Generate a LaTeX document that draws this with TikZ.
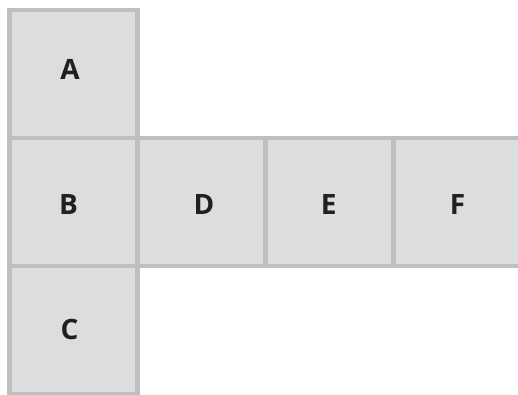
\documentclass[tikz,border=0pt]{standalone}
\usepackage{fontspec}
\setmainfont{Open Sans}
\definecolor{cellfill}{RGB}{220,221,223}
\definecolor{cellline}{RGB}{190,191,193}
\definecolor{celltext}{RGB}{35,31,32}
\begin{document}
\begin{tikzpicture}[x=1pt,y=-1pt,
  cell/.style={draw=cellline,fill=cellfill,line width=4.5pt,minimum width=128pt,minimum height=128pt,inner sep=0pt},
  lab/.style={font=\fontsize{28}{28}\selectfont\bfseries,text=celltext,inner sep=0pt,anchor=base}]
\useasboundingbox (0,0) rectangle (518,395);
\clip (0,0) rectangle (518,395);
\node[cell] (A) at (73.5,74) {};
\node[cell] (B) at (73.5,202) {};
\node[cell] (C) at (73.5,330) {};
\node[cell] (D) at (201.5,202) {};
\node[cell] (E) at (329.5,202) {};
\node[cell] (F) at (457.5,202) {};
\node[lab] (lA) at ([yshift=-6pt,xshift=-3.5pt]A.center) {A};
\node[lab] (lB) at ([yshift=-12pt,xshift=-5pt]B.center) {B};
\node[lab] (lC) at ([yshift=-9pt,xshift=-4pt]C.center) {C};
\node[lab] (lD) at ([yshift=-12pt,xshift=2.5pt]D.center) {D};
\node[lab] (lE) at ([yshift=-12pt,xshift=-0.7pt]E.center) {E};
\node[lab] (lF) at ([yshift=-12pt]F.center) {F};
\end{tikzpicture}
\end{document}
